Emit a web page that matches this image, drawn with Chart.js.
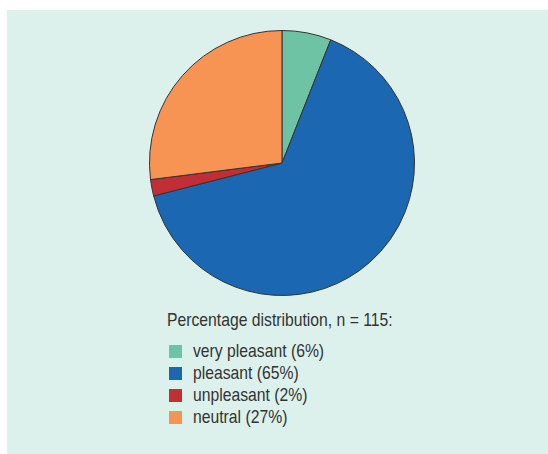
<!DOCTYPE html>
<html>
<head>
<meta charset="utf-8">
<script src="https://cdn.jsdelivr.net/npm/chart.js@4/dist/chart.umd.min.js"></script>
<style>
  html, body { margin: 0; padding: 0; background: #fff; }
  #panel { position: absolute; left: 7px; top: 10px; width: 541px; height: 444px; background: #dcf1ec; }
  #pieBox { position: absolute; left: 148px; top: 29px; width: 268px; height: 268px; }
  #legend { position: absolute; left: 167px; top: 308px; font-family: "Liberation Sans", Arial, sans-serif; font-size: 18.5px; color: #333; }
  #legend .txt { display: inline-block; transform: scaleX(0.85); transform-origin: left center; white-space: nowrap; }
  #legend .title { height: 24px; line-height: 24px; margin-bottom: 8px; }
  #legend .item { height: 22px; line-height: 22px; display: flex; align-items: center; }
  #legend .box { width: 13px; height: 13px; margin-left: 2px; margin-right: 11px; }
</style>
</head>
<body>
<div id="panel"></div>
<div id="pieBox"><canvas id="pie"></canvas></div>
<div id="legend"></div>
<script>
// values (percent, n = 115)
const labels = ['very pleasant', 'pleasant', 'unpleasant', 'neutral'];
const values = [6, 65, 2, 27];
const colors = ['#6fc3a5', '#1b67b1', '#c22e35', '#f79353'];
const legendTitle = 'Percentage distribution, n = 115:';

let chart = new Chart(document.getElementById('pie'), {
    type: 'pie',
    data: {
        labels: labels,
        datasets: [{
            data: values,
            backgroundColor: colors,
            borderColor: '#333',
            borderWidth: 1,
        }]
    },
    options: {
        responsive: true,
        maintainAspectRatio: true,
        animation: false,
        layout: { padding: 1 },
        plugins: {
            legend: { display: false },
            tooltip: { enabled: false },
        }
    }
});

// legend below the pie
let lg = document.getElementById('legend');
let t = document.createElement('div');
t.className = 'title';
t.innerHTML = '<span class="txt"></span>';
t.firstChild.textContent = legendTitle;
lg.appendChild(t);
for (let i = 0; i < labels.length; i++) {
    let row = document.createElement('div');
    row.className = 'item';
    let b = document.createElement('span');
    b.className = 'box';
    b.style.background = colors[i];
    row.appendChild(b);
    let s = document.createElement('span');
    s.className = 'txt';
    s.textContent = labels[i] + ' (' + values[i] + '%)';
    row.appendChild(s);
    lg.appendChild(row);
}
</script>
</body>
</html>
